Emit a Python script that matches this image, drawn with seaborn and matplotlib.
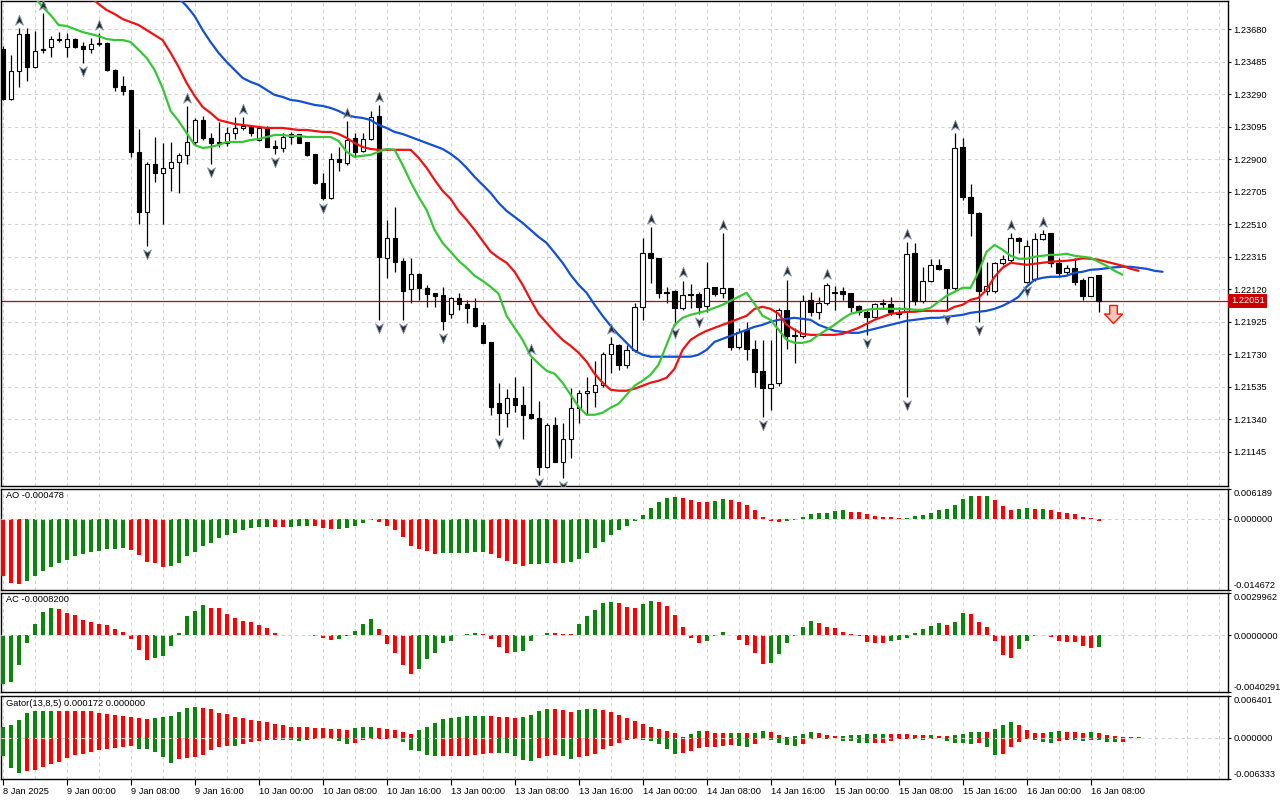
import numpy as np
import pandas as pd
import matplotlib
matplotlib.use("Agg")
import matplotlib.pyplot as plt
import matplotlib.transforms as mtransforms
from matplotlib.path import Path
import seaborn as sns

# ---------------- data (hourly bars, 8 Jan 16:00 .. 16 Jan 09:00) ----------------
OPEN = [
    1.23560, 1.23261, 1.23429, 1.23650, 1.23453, 1.23560, 1.23572, 1.23620, 1.23572, 1.23620,
    1.23578, 1.23560, 1.23596, 1.23596, 1.23435, 1.23339, 1.23315, 1.22944, 1.22584, 1.22872,
    1.22818, 1.22848, 1.22884, 1.22926, 1.23003, 1.23135, 1.23027, 1.23003, 1.22997, 1.23057,
    1.23087, 1.23093, 1.23015, 1.23093, 1.22979, 1.22967, 1.23051, 1.23051, 1.23003, 1.22932,
    1.22758, 1.22668, 1.22902, 1.22878, 1.23027, 1.22950, 1.23021, 1.23159, 1.22309, 1.22428,
    1.22291, 1.22123, 1.22213, 1.22129, 1.22099, 1.22087, 1.21973, 1.22069, 1.22033, 1.22009,
    1.21907, 1.21805, 1.21440, 1.21380, 1.21470, 1.21428, 1.21374, 1.21350, 1.21057, 1.21308,
    1.21087, 1.21224, 1.21410, 1.21500, 1.21506, 1.21548, 1.21734, 1.21787, 1.21668, 1.21757,
    1.22015, 1.22339, 1.22309, 1.22105, 1.22111, 1.22009, 1.22093, 1.22093, 1.22021, 1.22135,
    1.22099, 1.22129, 1.21775, 1.21877, 1.21763, 1.21632, 1.21530, 1.21560, 1.21997, 1.21841,
    1.21841, 1.22057, 1.21985, 1.22039, 1.22105, 1.22111, 1.22099, 1.22021, 1.21985, 1.21955,
    1.22033, 1.22033, 1.21985, 1.21991, 1.22339, 1.22051, 1.22171, 1.22267, 1.22243, 1.22129,
    1.22973, 1.22674, 1.22578, 1.22111, 1.22111, 1.22279, 1.22297, 1.22428, 1.22165, 1.22183,
    1.22422, 1.22458, 1.22279, 1.22225, 1.22249, 1.22177, 1.22081, 1.22207]
HIGH = [
    1.23578, 1.23525, 1.23686, 1.23686, 1.23668, 1.23776, 1.23638, 1.23662, 1.23656, 1.23626,
    1.23602, 1.23626, 1.23656, 1.23602, 1.23441, 1.23399, 1.23315, 1.23081, 1.22884, 1.23033,
    1.22997, 1.23003, 1.22938, 1.23219, 1.23147, 1.23159, 1.23057, 1.23123, 1.23093, 1.23153,
    1.23153, 1.23099, 1.23093, 1.23099, 1.23015, 1.23057, 1.23063, 1.23051, 1.23003, 1.22932,
    1.22818, 1.22938, 1.22973, 1.23129, 1.23057, 1.23057, 1.23189, 1.23225, 1.22536, 1.22614,
    1.22309, 1.22309, 1.22219, 1.22147, 1.22099, 1.22135, 1.22075, 1.22099, 1.22057, 1.22069,
    1.21925, 1.21805, 1.21560, 1.21524, 1.21596, 1.21542, 1.21710, 1.21452, 1.21320, 1.21356,
    1.21320, 1.21530, 1.21518, 1.21596, 1.21692, 1.21746, 1.21835, 1.21793, 1.21787, 1.22039,
    1.22428, 1.22494, 1.22309, 1.22135, 1.22117, 1.22171, 1.22153, 1.22105, 1.22285, 1.22135,
    1.22458, 1.22129, 1.21889, 1.21925, 1.21817, 1.21817, 1.21817, 1.22009, 1.22177, 1.21889,
    1.22087, 1.22105, 1.22075, 1.22159, 1.22141, 1.22135, 1.22099, 1.22027, 1.21997, 1.22039,
    1.22063, 1.22075, 1.22015, 1.22404, 1.22398, 1.22255, 1.22303, 1.22303, 1.22243, 1.23057,
    1.23027, 1.22752, 1.22584, 1.22285, 1.22285, 1.22327, 1.22458, 1.22434, 1.22416, 1.22458,
    1.22476, 1.22458, 1.22309, 1.22267, 1.22309, 1.22189, 1.22195, 1.22207]
LOW = [
    1.23255, 1.23255, 1.23333, 1.23369, 1.23447, 1.23537, 1.23513, 1.23602, 1.23513, 1.23566,
    1.23477, 1.23537, 1.23578, 1.23429, 1.23309, 1.23285, 1.22914, 1.22512, 1.22380, 1.22764,
    1.22512, 1.22710, 1.22698, 1.22872, 1.22985, 1.23015, 1.22872, 1.22973, 1.22979, 1.23021,
    1.23075, 1.23039, 1.23009, 1.22973, 1.22932, 1.22944, 1.22991, 1.22997, 1.22920, 1.22752,
    1.22656, 1.22662, 1.22830, 1.22866, 1.22914, 1.22944, 1.23015, 1.21937, 1.22189, 1.22225,
    1.21937, 1.22039, 1.22057, 1.22015, 1.22015, 1.21877, 1.21949, 1.21997, 1.21919, 1.21895,
    1.21799, 1.21368, 1.21248, 1.21296, 1.21386, 1.21224, 1.21344, 1.21009, 1.21051, 1.21087,
    1.20991, 1.21111, 1.21320, 1.21368, 1.21416, 1.21536, 1.21620, 1.21638, 1.21650, 1.21746,
    1.21937, 1.22159, 1.22069, 1.22039, 1.21907, 1.21997, 1.22009, 1.21973, 1.21985, 1.22081,
    1.22069, 1.21757, 1.21763, 1.21698, 1.21536, 1.21356, 1.21398, 1.21542, 1.21763, 1.21680,
    1.21829, 1.21961, 1.21943, 1.22027, 1.21997, 1.22057, 1.21985, 1.21967, 1.21847, 1.21949,
    1.22003, 1.21967, 1.21949, 1.21476, 1.22027, 1.22039, 1.22165, 1.22237, 1.21991, 1.22117,
    1.22656, 1.22440, 1.21925, 1.22087, 1.22099, 1.22267, 1.22285, 1.22339, 1.22159, 1.22171,
    1.22416, 1.22255, 1.22195, 1.22213, 1.22147, 1.22057, 1.22081, 1.21985]
CLOSE = [
    1.23261, 1.23429, 1.23650, 1.23453, 1.23549, 1.23555, 1.23620, 1.23614, 1.23620, 1.23572,
    1.23560, 1.23590, 1.23590, 1.23435, 1.23333, 1.23309, 1.22944, 1.22584, 1.22872, 1.22818,
    1.22848, 1.22884, 1.22926, 1.23003, 1.23135, 1.23027, 1.22997, 1.22997, 1.23057, 1.23087,
    1.23099, 1.23057, 1.23087, 1.22973, 1.22967, 1.23033, 1.23033, 1.22997, 1.22926, 1.22758,
    1.22668, 1.22902, 1.22884, 1.23015, 1.22944, 1.23021, 1.23153, 1.22315, 1.22428, 1.22285,
    1.22111, 1.22213, 1.22129, 1.22093, 1.22081, 1.21931, 1.22069, 1.22033, 1.22009, 1.21901,
    1.21799, 1.21416, 1.21380, 1.21470, 1.21428, 1.21368, 1.21350, 1.21057, 1.21308, 1.21087,
    1.21224, 1.21410, 1.21500, 1.21512, 1.21548, 1.21734, 1.21793, 1.21668, 1.21757, 1.22015,
    1.22339, 1.22309, 1.22099, 1.22099, 1.22009, 1.22087, 1.22087, 1.22015, 1.22129, 1.22093,
    1.22129, 1.21775, 1.21865, 1.21763, 1.21626, 1.21530, 1.21554, 1.21997, 1.21841, 1.21847,
    1.22051, 1.21985, 1.22039, 1.22147, 1.22099, 1.22093, 1.22015, 1.21985, 1.21955, 1.22033,
    1.22039, 1.21985, 1.21973, 1.22333, 1.22051, 1.22171, 1.22267, 1.22243, 1.22129, 1.22967,
    1.22674, 1.22578, 1.22111, 1.22141, 1.22279, 1.22303, 1.22428, 1.22410, 1.22380, 1.22422,
    1.22452, 1.22279, 1.22219, 1.22249, 1.22165, 1.22081, 1.22195, 1.22051]

# Alligator lines (already shifted forward as drawn), first visible bar index + values
LIPS_START = 4
LIPS = [
    1.23872, 1.23812, 1.23764, 1.23704, 1.23698, 1.23680, 1.23662, 1.23650, 1.23638, 1.23620,
    1.23614, 1.23614, 1.23602, 1.23555, 1.23507, 1.23435, 1.23327, 1.23189, 1.23129, 1.23057,
    1.22985, 1.22967, 1.22973, 1.22985, 1.23003, 1.23003, 1.23003, 1.23015, 1.23021, 1.23033,
    1.23045, 1.23045, 1.23039, 1.23039, 1.23033, 1.23033, 1.23033, 1.23033, 1.23009, 1.22944,
    1.22914, 1.22920, 1.22926, 1.22944, 1.22961, 1.22956, 1.22866, 1.22764, 1.22674, 1.22596,
    1.22476, 1.22398, 1.22345, 1.22291, 1.22249, 1.22201, 1.22171, 1.22135, 1.22093, 1.21961,
    1.21889, 1.21817, 1.21722, 1.21674, 1.21632, 1.21614, 1.21560, 1.21488, 1.21416, 1.21368,
    1.21368, 1.21380, 1.21410, 1.21434, 1.21488, 1.21542, 1.21572, 1.21608, 1.21668, 1.21787,
    1.21907, 1.21949, 1.21967, 1.21979, 1.21991, 1.22009, 1.22027, 1.22051, 1.22075, 1.22099,
    1.22033, 1.21961, 1.21937, 1.21877, 1.21817, 1.21799, 1.21799, 1.21811, 1.21847, 1.21877,
    1.21907, 1.21943, 1.21973, 1.21985, 1.21997, 1.22003, 1.22003, 1.22003, 1.22003, 1.22003,
    1.21997, 1.21997, 1.22009, 1.22045, 1.22081, 1.22105, 1.22129, 1.22129, 1.22225, 1.22345,
    1.22386, 1.22357, 1.22321, 1.22303, 1.22303, 1.22315, 1.22321, 1.22327, 1.22327, 1.22333,
    1.22321, 1.22315, 1.22309, 1.22285, 1.22261, 1.22231, 1.22207]
TEETH_START = 11
TEETH = [
    1.23872, 1.23830, 1.23794, 1.23770, 1.23740, 1.23722, 1.23704, 1.23674, 1.23644, 1.23614,
    1.23537, 1.23453, 1.23357, 1.23279, 1.23213, 1.23177, 1.23135, 1.23123, 1.23111, 1.23105,
    1.23099, 1.23093, 1.23087, 1.23087, 1.23087, 1.23081, 1.23075, 1.23075, 1.23069, 1.23063,
    1.23063, 1.23051, 1.23027, 1.22997, 1.22973, 1.22961, 1.22956, 1.22956, 1.22956, 1.22956,
    1.22956, 1.22908, 1.22848, 1.22776, 1.22710, 1.22662, 1.22590, 1.22536, 1.22476, 1.22410,
    1.22345, 1.22309, 1.22279, 1.22225, 1.22147, 1.22057, 1.21973, 1.21919, 1.21865, 1.21817,
    1.21781, 1.21740, 1.21686, 1.21614, 1.21560, 1.21518, 1.21512, 1.21512, 1.21524, 1.21542,
    1.21560, 1.21572, 1.21590, 1.21644, 1.21757, 1.21817, 1.21847, 1.21871, 1.21889, 1.21907,
    1.21925, 1.21943, 1.21961, 1.22003, 1.22015, 1.22003, 1.21973, 1.21907, 1.21877, 1.21853,
    1.21847, 1.21847, 1.21847, 1.21847, 1.21853, 1.21871, 1.21889, 1.21913, 1.21937, 1.21955,
    1.21973, 1.21979, 1.21985, 1.21985, 1.21991, 1.21991, 1.21991, 1.21991, 1.22015, 1.22027,
    1.22057, 1.22069, 1.22117, 1.22195, 1.22249, 1.22279, 1.22273, 1.22267, 1.22273, 1.22279,
    1.22285, 1.22288, 1.22291, 1.22297, 1.22306, 1.22303, 1.22297, 1.22285, 1.22273, 1.22261,
    1.22243, 1.22231]
JAW_START = 22
JAW = [
    1.23866, 1.23818, 1.23758, 1.23674, 1.23602, 1.23537, 1.23483, 1.23435, 1.23387, 1.23363,
    1.23345, 1.23315, 1.23285, 1.23273, 1.23255, 1.23249, 1.23237, 1.23225, 1.23219, 1.23207,
    1.23189, 1.23165, 1.23153, 1.23147, 1.23135, 1.23105, 1.23087, 1.23063, 1.23051, 1.23033,
    1.23015, 1.22997, 1.22979, 1.22961, 1.22932, 1.22896, 1.22848, 1.22794, 1.22746, 1.22698,
    1.22638, 1.22590, 1.22554, 1.22518, 1.22476, 1.22434, 1.22398, 1.22339, 1.22279, 1.22207,
    1.22147, 1.22099, 1.22027, 1.21961, 1.21901, 1.21847, 1.21799, 1.21752, 1.21728, 1.21716,
    1.21716, 1.21716, 1.21716, 1.21716, 1.21716, 1.21728, 1.21757, 1.21805, 1.21823, 1.21841,
    1.21859, 1.21877, 1.21895, 1.21907, 1.21925, 1.21937, 1.21943, 1.21949, 1.21943, 1.21937,
    1.21907, 1.21889, 1.21871, 1.21865, 1.21859, 1.21859, 1.21871, 1.21883, 1.21895, 1.21907,
    1.21919, 1.21931, 1.21937, 1.21943, 1.21949, 1.21949, 1.21955, 1.21961, 1.21967, 1.21979,
    1.21985, 1.21991, 1.22003, 1.22021, 1.22045, 1.22075, 1.22135, 1.22177, 1.22189, 1.22195,
    1.22195, 1.22201, 1.22219, 1.22225, 1.22237, 1.22240, 1.22246, 1.22252, 1.22255, 1.22255,
    1.22249, 1.22243, 1.22231, 1.22225]

UP_FRACTAL_BARS = [2, 5, 12, 23, 30, 43, 47, 66, 76, 81, 85, 90, 98, 103, 113, 119, 126, 130]
DOWN_FRACTAL_BARS = [10, 18, 26, 34, 40, 47, 50, 55, 62, 67, 70, 84, 87, 95, 108, 113, 118, 122, 128]
SIGNAL_BAR = 138.75        # sell arrow after the last bar
SIGNAL_PRICE = 1.21973

# Oscillators, in millionths
MICRO = 1e-6
AO_MICRO = [
    -11821, -13253, -13468, -12895, -11821, -10746, -9886, -9027, -8382, -7665,
    -7164, -6877, -6519, -6304, -6233, -6089, -6448, -7522, -8812, -9170,
    -9886, -9814, -9170, -7737, -6877, -5588, -4872, -3940, -3367, -2937,
    -2364, -1934, -1648, -1612, -1648, -1684, -1576, -1504, -1433, -1504,
    -1863, -2078, -2006, -1934, -1504, -788, -215, -573, -1433, -2292,
    -3797, -5516, -6233, -6591, -7164, -7128, -7092, -7021, -6985, -6913,
    -6877, -7164, -8095, -8740, -9313, -9814, -9385, -9313, -9098, -9170,
    -9134, -8955, -8167, -7021, -5946, -4657, -3367, -2292, -1433, -358,
    860, 2364, 3439, 4298, 4513, 4298, 3869, 3439, 3403, 3654,
    4083, 3869, 3439, 2866, 1934, 501, -430, -573, -358, -215,
    430, 1075, 1290, 1325, 1719, 1755, 1504, 1469, 1075, 645,
    430, 394, 179, 215, 645, 860, 1290, 1934, 2149, 2794,
    4083, 4800, 4657, 4728, 3869, 2579, 1934, 2149, 2185, 2113,
    2149, 1934, 1504, 1290, 1075, 430, 107, -478]
AC_MICRO = [
    -3473, -3353, -2084, -527, 766, 1629, 1916, 1844, 1557, 1413,
    1054, 934, 814, 719, 407, 240, -287, -1078, -1724, -1605,
    -1509, -790, 192, 1365, 1700, 2132, 1916, 1904, 1485, 1198,
    1030, 958, 695, 479, 192, -12, 24, 36, 48, -24,
    -168, -359, -287, -24, 311, 766, 1126, 407, -599, -1293,
    -2084, -2730, -2395, -1677, -1293, -575, -383, -12, 96, 168,
    96, -287, -862, -1245, -1221, -1150, -383, 48, 192, 144,
    120, 96, 766, 1341, 1772, 2275, 2347, 2275, 1988, 1916,
    2203, 2419, 2347, 2060, 1413, 551, -216, -575, -431, -24,
    263, 48, -359, -719, -1293, -2012, -1940, -1365, -575, -24,
    551, 982, 838, 551, 479, 263, 72, -24, -455, -527,
    -575, -431, -359, -216, 192, 407, 623, 838, 695, 910,
    1557, 1485, 910, 551, -431, -1437, -1581, -1006, -431, -24,
    -12, -144, -431, -503, -515, -790, -934, -820]
GATOR_UP_MICRO = [
    1642, 1898, 2668, 3848, 4104, 4130, 4155, 4140, 4125, 4114,
    4104, 4053, 3848, 3642, 3488, 3283, 3181, 3027, 2924, 3027,
    3129, 3386, 4001, 4617, 4643, 4617, 4361, 3848, 3694, 3232,
    3027, 2770, 2616, 2462, 2155, 1898, 1693, 1642, 1590, 1539,
    1488, 1334, 1283, 1231, 1436, 1693, 1719, 1539, 1283, 1129,
    924, 616, 1129, 1693, 2309, 2924, 3078, 3232, 3283, 3360,
    3386, 3360, 3232, 3206, 3078, 3232, 3540, 4155, 4463, 4437,
    4309, 4001, 4207, 4361, 4463, 4309, 4001, 3540, 3078, 2616,
    2155, 1693, 1385, 1077, 770, 103, 616, 1077, 1026, 770,
    744, 770, 795, 744, 770, 1077, 924, 462, 103, 308,
    616, 924, 770, 462, 257, 308, 359, 410, 513, 564,
    616, 590, 564, 513, 410, 359, 385, 333, 308, 462,
    616, 924, 949, 924, 1385, 2001, 2462, 2001, 1231, 770,
    744, 924, 1077, 924, 898, 770, 924, 770, 462, 308,
    154, 51, 103]
GATOR_LOW_MICRO = [
    -2873, -4617, -5387, -5181, -5027, -4566, -4001, -3694, -3078, -2719,
    -2462, -2206, -1949, -1796, -1590, -1385, -1334, -1693, -1796, -2257,
    -3027, -3848, -3335, -3129, -3027, -2616, -1949, -1488, -1231, -1283,
    -1026, -718, -564, -410, -308, -333, -359, -436, -359, -257,
    -205, -257, -564, -1026, -770, -410, -257, -205, -154, -103,
    -718, -1949, -2103, -2616, -2873, -2847, -2822, -2796, -2770, -2719,
    -2462, -2309, -2334, -2360, -2873, -3488, -3642, -3129, -2873, -2719,
    -2873, -3232, -2975, -2873, -2462, -1796, -1231, -770, -308, -154,
    -308, -462, -923, -1693, -2462, -2411, -2001, -1539, -1385, -1359,
    -1283, -1077, -1334, -1385, -923, -154, -308, -770, -1180, -1334,
    -923, -257, -103, -154, -103, -462, -564, -770, -795, -770,
    -744, -564, -257, -231, -257, -282, -257, -103, -564, -770,
    -795, -923, -770, -1385, -2616, -2462, -1385, -616, -257, -308,
    -616, -770, -462, -308, -410, -462, -308, -410, -667, -718,
    -616]

PRICE_TICKS = [1.23680, 1.23485, 1.23290, 1.23095, 1.22900, 1.22705, 1.22510,
               1.22315, 1.22120, 1.21925, 1.21730, 1.21535, 1.21340, 1.21145]
PRICE_TICK_LABELS = ["1.23680", "1.23485", "1.23290", "1.23095", "1.22900", "1.22705", "1.22510",
                     "1.22315", "1.22120", "1.21925", "1.21730", "1.21535", "1.21340", "1.21145"]
AO_TICKS = [0.006189, 0.0, -0.014672]
AO_TICK_LABELS = ["0.006189", "0.000000", "-0.014672"]
AC_TICKS = [0.0029962, 0.0, -0.0040291]
AC_TICK_LABELS = ["0.0029962", "0.0000000", "-0.0040291"]
GT_TICKS = [0.006401, 0.0, -0.006333]
GT_TICK_LABELS = ["0.006401", "0.000000", "-0.006333"]
XLABEL_BARS = [0, 8, 16, 24, 32, 40, 48, 56, 64, 72, 80, 88, 96, 104, 112, 120, 128, 136]
XLABELS = ["8 Jan 2025", "9 Jan 00:00", "9 Jan 08:00", "9 Jan 16:00", "10 Jan 00:00",
           "10 Jan 08:00", "10 Jan 16:00", "13 Jan 00:00", "13 Jan 08:00", "13 Jan 16:00",
           "14 Jan 00:00", "14 Jan 08:00", "14 Jan 16:00", "15 Jan 00:00", "15 Jan 08:00",
           "15 Jan 16:00", "16 Jan 00:00", "16 Jan 08:00"]
AO_TITLE = "AO -0.000478"
AC_TITLE = "AC -0.0008200"
GT_TITLE = "Gator(13,8,5) 0.000172 0.000000"

# ---------------- styling ----------------
sns.set_theme(style="white")
plt.rcParams["font.family"] = ["Liberation Sans", "DejaVu Sans"]
plt.rcParams["axes.edgecolor"] = "black"
plt.rcParams["axes.linewidth"] = 1.0

BAR_GREEN = "#0b860b"
BAR_RED = "#ff0000"
GRID_COL = "#d2d2d2"
DASH = (0, (3, 3))
FS = 6.7

W, H = 1280, 800
fig = plt.figure(figsize=(W / 100, H / 100), dpi=100)
fig.patch.set_facecolor("white")


def add_panel(top, bottom):
    return fig.add_axes([1 / W, 1 - bottom / H, 1227 / W, (bottom - top) / H])


ax = add_panel(1, 486)
ax_ao = add_panel(489, 590)
ax_ac = add_panel(593, 692)
ax_gt = add_panel(696, 779)
panels = [ax, ax_ao, ax_ac, ax_gt]
XLIM = (-0.2, 153.18)
GRID_BARS = np.arange(0, 154, 4)

for a in panels:
    a.set_facecolor("white")
    a.set_xlim(*XLIM)
    for gx in GRID_BARS:
        a.axvline(gx, color=GRID_COL, lw=0.8, ls=DASH, zorder=0.5)
    for s in a.spines.values():
        s.set_color("black")
        s.set_linewidth(1.0)
        s.set_visible(True)

# ---------------- main price panel ----------------
o = np.array(OPEN)
h = np.array(HIGH)
l = np.array(LOW)
c = np.array(CLOSE)
bars = np.arange(len(c))
ax.set_ylim(1.20941, 1.23848)
for p in PRICE_TICKS:
    ax.axhline(p, color=GRID_COL, lw=0.8, ls=DASH, zorder=0.5)

current = CLOSE[-1]
ax.axhline(current, color="#c40000", lw=0.9, zorder=1.5)

bull = c >= o
body_lo = np.minimum(o, c)
body_h = np.maximum(np.abs(c - o), 0.000015)
ax.vlines(bars, l, h, color="black", lw=0.9, zorder=3)
ax.bar(bars, body_h, bottom=body_lo, width=0.52,
       color=np.where(bull, "white", "black"), edgecolor="black", linewidth=0.8, zorder=4)

for start, vals, col in [(JAW_START, JAW, "#1450d2"),
                         (TEETH_START, TEETH, "#f01212"),
                         (LIPS_START, LIPS, "#36c636")]:
    xs = np.arange(start, start + len(vals))
    sns.lineplot(x=xs, y=vals, ax=ax, color=col, linewidth=1.6,
                 estimator=None, sort=False, zorder=5)

up_path = Path([(0, 1), (0.75, -0.9), (0, -0.35), (-0.75, -0.9), (0, 1)],
               [Path.MOVETO, Path.LINETO, Path.LINETO, Path.LINETO, Path.CLOSEPOLY])
down_path = Path([(0, -1), (0.75, 0.9), (0, 0.35), (-0.75, 0.9), (0, -1)],
                 [Path.MOVETO, Path.LINETO, Path.LINETO, Path.LINETO, Path.CLOSEPOLY])
tr_up = mtransforms.offset_copy(ax.transData, fig=fig, y=6, units="points")
tr_dn = mtransforms.offset_copy(ax.transData, fig=fig, y=-6, units="points")
ax.plot(UP_FRACTAL_BARS, [HIGH[i] for i in UP_FRACTAL_BARS], ls="none", marker=up_path,
        ms=7.5, mfc="#2b2b2b", mec="#8194ad", mew=0.6, transform=tr_up, zorder=6)
ax.plot(DOWN_FRACTAL_BARS, [LOW[i] for i in DOWN_FRACTAL_BARS], ls="none", marker=down_path,
        ms=7.5, mfc="#2b2b2b", mec="#8194ad", mew=0.6, transform=tr_dn, zorder=6)

arrow_path = Path([(-0.42, 1), (0.42, 1), (0.42, 0.05), (1, 0.05), (0, -1), (-1, 0.05),
                   (-0.42, 0.05), (-0.42, 1)],
                  [Path.MOVETO] + [Path.LINETO] * 6 + [Path.CLOSEPOLY])
ax.plot([SIGNAL_BAR], [SIGNAL_PRICE], ls="none", marker=arrow_path, ms=13,
        mfc="#ffc4bc", mec="#ff1400", mew=1.0, zorder=7)

ax.set_yticks(PRICE_TICKS)
ax.set_yticklabels(PRICE_TICK_LABELS)
ax.text(1.0 + 3 / 1227, current, f"{current:.5f}",
        transform=mtransforms.blended_transform_factory(ax.transAxes, ax.transData),
        ha="left", va="center", fontsize=FS, color="white", zorder=10,
        bbox=dict(boxstyle="square,pad=0.28", fc="#cc0000", ec="none"), clip_on=False)


# ---------------- oscillator panels ----------------
def trend_colours(vals, first, magnitude=False):
    cols = [first]
    for k in range(1, len(vals)):
        a, b = vals[k], vals[k - 1]
        if magnitude:
            a, b = abs(a), abs(b)
        if a > b:
            cols.append(BAR_GREEN)
        elif a < b:
            cols.append(BAR_RED)
        else:
            cols.append(cols[-1])
    return cols


ao = np.array(AO_MICRO) * MICRO
ac = np.array(AC_MICRO) * MICRO
gu = np.array(GATOR_UP_MICRO) * MICRO
gl = np.array(GATOR_LOW_MICRO) * MICRO

ax_ao.bar(np.arange(len(ao)), ao, width=0.5, color=trend_colours(ao, BAR_RED), linewidth=0, zorder=3)
ax_ac.bar(np.arange(len(ac)), ac, width=0.5, color=trend_colours(ac, BAR_GREEN), linewidth=0, zorder=3)
ax_gt.bar(np.arange(len(gu)), gu, width=0.5, color=trend_colours(gu, BAR_GREEN, True), linewidth=0, zorder=3)
ax_gt.bar(np.arange(len(gl)), gl, width=0.5, color=trend_colours(gl, BAR_GREEN, True), linewidth=0, zorder=3)

osc = [(ax_ao, (-0.014672, 0.006189), AO_TICKS, AO_TICK_LABELS, AO_TITLE, 0.94),
       (ax_ac, (-0.0040291, 0.0029962), AC_TICKS, AC_TICK_LABELS, AC_TITLE, 0.93),
       (ax_gt, (-0.006333, 0.006401), GT_TICKS, GT_TICK_LABELS, GT_TITLE, 0.905)]
for a, lim, ticks, labels, title, ty in osc:
    a.set_ylim(*lim)
    a.axhline(0, color=GRID_COL, lw=0.8, ls=DASH, zorder=4)
    a.set_yticks(ticks)
    a.set_yticklabels(labels)
    a.text(0.004, ty, title, transform=a.transAxes, ha="left", va="center", fontsize=FS, color="black")

for a in panels:
    a.yaxis.tick_right()
    a.tick_params(axis="y", which="both", right=True, labelright=True, left=False, labelleft=False,
                  direction="out", length=2.5, width=0.8, labelsize=FS, pad=1.2, colors="black")
    a.set_xlabel("")
    a.set_ylabel("")

for a in [ax, ax_ao, ax_ac]:
    a.set_xticks([])

ax_gt.set_xticks(XLABEL_BARS)
ax_gt.set_xticklabels(XLABELS, ha="left")
ax_gt.tick_params(axis="x", bottom=True, labelbottom=True, direction="out", length=4,
                  width=0.8, labelsize=FS, pad=1.5, colors="black")

# edge labels of the indicator windows sit inside the window bounds
for a, *_ in osc:
    ticks_obj = a.yaxis.get_major_ticks()
    for t in (ticks_obj[0],):
        t.label1.set_va("top")
        t.label2.set_va("top")
    for t in (ticks_obj[-1],):
        t.label1.set_va("bottom")
        t.label2.set_va("bottom")

fig.savefig("out.png", dpi=100, facecolor="white")
